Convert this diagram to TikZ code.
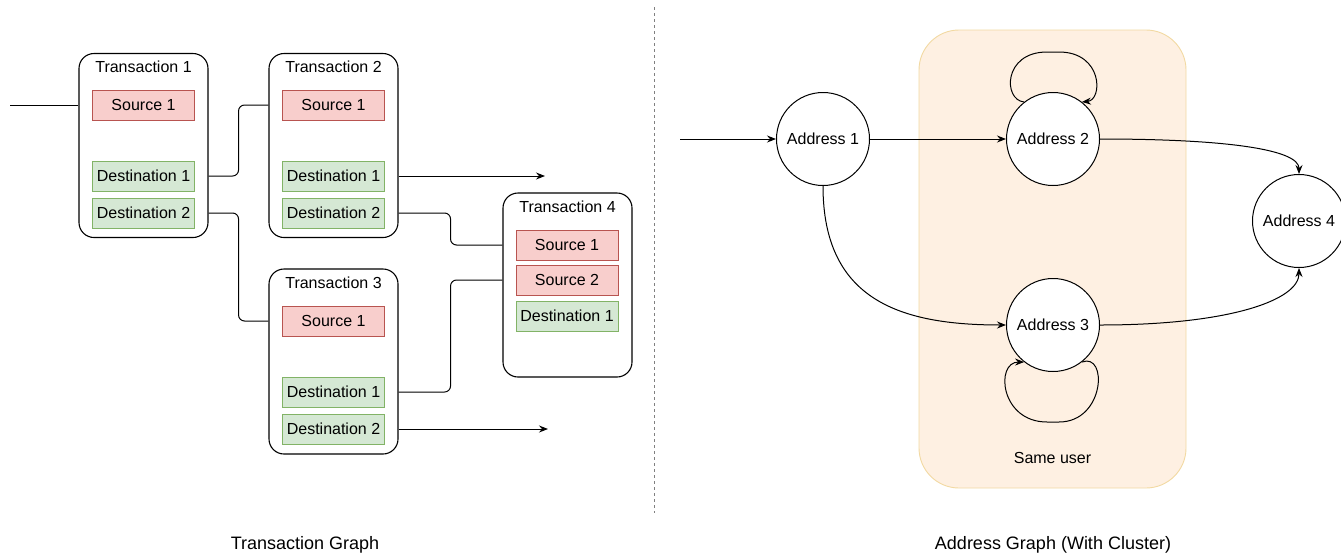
\documentclass[tikz,border=0pt]{standalone}
\usepackage{fontspec}
\setmainfont{Liberation Sans}
\usetikzlibrary{arrows.meta,calc}
\definecolor{srcfill}{HTML}{F8CECC}
\definecolor{srcline}{HTML}{B85450}
\definecolor{dstfill}{HTML}{D5E8D4}
\definecolor{dstline}{HTML}{82B366}
\definecolor{clfill}{HTML}{FEF0E2}
\definecolor{clline}{HTML}{F2D9A2}
\begin{document}
\begin{tikzpicture}[x=1pt,y=-1pt,
  font=\fontsize{16}{19}\selectfont,
  txbox/.style={draw, line width=1.1pt, rounded corners=15pt, minimum width=129pt, minimum height=184pt, inner sep=0pt},
  title/.style={inner sep=0pt},
  srcbox/.style={draw=srcline, fill=srcfill, line width=0.9pt, minimum width=102pt, minimum height=30pt, inner sep=0pt},
  dstbox/.style={draw=dstline, fill=dstfill, line width=0.9pt, minimum width=102pt, minimum height=30pt, inner sep=0pt},
  conn/.style={line width=1pt, rounded corners=6pt},
  tip/.style={-{Stealth[length=9pt,width=7pt,inset=3pt]}},
  addr/.style={draw, line width=1pt, circle, minimum size=93pt, inner sep=0pt, fill=white},
  caption/.style={font=\fontsize{18}{21}\selectfont, inner sep=0pt}
]
\useasboundingbox (0,0) rectangle (1341,555);

% ---------- Transaction graph ----------
\node[txbox] (t1) at (143.5,145.5) {};
\node[title] (t1t) at (143.5,67) {Transaction 1};
\node[srcbox] (s11) at (143.5,105) {Source 1};
\node[dstbox] (d11) at (143.5,176) {Destination 1};
\node[dstbox] (d12) at (143.5,213) {Destination 2};

\node[txbox] (t2) at (333.5,145.5) {};
\node[title] (t2t) at (333.5,67) {Transaction 2};
\node[srcbox] (s21) at (333.5,105) {Source 1};
\node[dstbox] (d21) at (333.5,176) {Destination 1};
\node[dstbox] (d22) at (333.5,213) {Destination 2};

\node[txbox, minimum height=185pt] (t3) at (333.5,361.5) {};
\node[title] (t3t) at (333.5,283) {Transaction 3};
\node[srcbox] (s31) at (333.5,321) {Source 1};
\node[dstbox] (d31) at (333.5,392) {Destination 1};
\node[dstbox] (d32) at (333.5,429) {Destination 2};

\node[txbox] (t4) at (567.5,285) {};
\node[title] (t4t) at (567.5,207) {Transaction 4};
\node[srcbox] (s41) at (567,245) {Source 1};
\node[srcbox] (s42) at (567,280) {Source 2};
\node[dstbox] (d41) at (567,316) {Destination 1};

\coordinate (in1) at (10,105);
\coordinate (out1) at (545,176);
\coordinate (out2) at (548,429);

\draw[conn] (in1) -- (s11 -| t1.west);
\draw[conn] (d11 -| t1.east) -- ++(30,0) |- (s21 -| t2.west);
\draw[conn] (d12 -| t1.east) -- ++(30,0) |- (s31 -| t3.west);
\draw[conn, tip] (d21 -| t2.east) -- (out1);
\draw[conn] (d22 -| t2.east) -- ++(52,0) |- (s41 -| t4.west);
\draw[conn] (d31 -| t3.east) -- ++(52,0) |- (s42 -| t4.west);
\draw[conn, tip] (d32 -| t3.east) -- (out2);

\node[caption] (cap1) at (305,545) {Transaction Graph};

% ---------- divider ----------
\coordinate (divtop) at (654.5,7);
\coordinate (divbot) at (654.5,513);
\draw[gray, line width=0.8pt, dash pattern=on 3pt off 3pt] (divtop) -- (divbot);

% ---------- Address graph ----------
\node[draw=clline, fill=clfill, line width=0.9pt, rounded corners=40pt, minimum width=267pt, minimum height=458pt, inner sep=0pt] (cl) at (1052.5,259) {};
\node[inner sep=0pt] (same) at (1052.5,458) {Same user};

\node[addr] (a1) at (823,139) {Address 1};
\node[addr] (a2) at (1053,139) {Address 2};
\node[addr] (a3) at (1053,325) {Address 3};
\node[addr] (a4) at (1299,221) {Address 4};

\coordinate (in2) at (680,139);
\draw[conn, tip] (in2) -- (a1);
\draw[conn, tip] (a1) -- (a2);
\draw[conn, tip] (a1.south) .. controls (823,300) and (900,325) .. (a3.west);
\draw[conn, tip] (a2.east) .. controls (1230,139) and (1299,150) .. (a4.north);
\draw[conn, tip] (a3.east) .. controls (1230,325) and (1299,300) .. (a4.south);
\draw[conn, tip] (a2.128) .. controls (1003,100) and (1003,52) .. (1053,52)
   .. controls (1103,52) and (1103,100) .. (a2.52);
\draw[conn, tip] (a3.-52) .. controls (1108,352) and (1105,422) .. (1053,422)
   .. controls (1000,422) and (995,362) .. (a3.-128);

\node[caption] (cap2) at (1053,545) {Address Graph (With Cluster)};
\end{tikzpicture}
\end{document}
